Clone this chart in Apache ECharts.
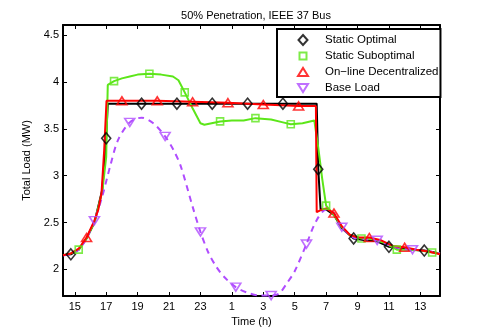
<!DOCTYPE html>
<html>
<head>
<meta charset="utf-8">
<script src="https://cdn.jsdelivr.net/npm/echarts@6/dist/echarts.min.js"></script>
<style>
  html, body { margin: 0; padding: 0; background: #fff; }
  #chart { width: 485px; height: 334px; }
</style>
</head>
<body>
<div id="chart"></div>
<script>
// time axis runs past midnight, so hours after 24 mean next day
const xTicks = [15, 17, 19, 21, 23, 25, 27, 29, 31, 33, 35, 37]
const yTicks = [2, 2.5, 3, 3.5, 4, 4.5]

// Static Optimal
const optHours = [14.25, 14.75, 15.25, 15.75, 16.25, 16.75, 17.0, 17.1, 19.25, 21.5, 23.75, 26.0, 28.25, 30.4, 30.5, 30.65, 31.0, 31.5, 32.0, 32.75, 33.5, 34.25, 35.0, 35.75, 36.5, 37.25, 38.25]
const optLoad = [2.15, 2.16, 2.21, 2.33, 2.50, 2.85, 3.40, 3.77, 3.77, 3.77, 3.77, 3.77, 3.77, 3.77, 3.07, 2.64, 2.64, 2.58, 2.44, 2.33, 2.31, 2.30, 2.24, 2.22, 2.21, 2.20, 2.17]
const optMarks = [14.75, 17.0, 19.25, 21.5, 23.75, 26.0, 28.25, 30.5, 32.75, 35.0, 37.25]

// Static Suboptimal
const subHours = [14.25, 14.75, 15.25, 15.75, 16.25, 16.75, 17.0, 17.1, 17.5, 18.0, 18.5, 19.0, 19.75, 20.5, 21.25, 21.6, 22.0, 22.5, 23.0, 23.25, 24.25, 25.0, 25.75, 26.5, 27.5, 28.25, 28.75, 29.5, 30.25, 30.5, 30.75, 31.0, 31.5, 32.0, 32.5, 33.25, 34.0, 34.75, 35.5, 36.25, 37.0, 37.75, 38.25]
const subLoad = [2.15, 2.17, 2.21, 2.33, 2.50, 2.83, 3.20, 3.97, 4.01, 4.04, 4.06, 4.08, 4.09, 4.08, 4.06, 4.02, 3.89, 3.72, 3.56, 3.545, 3.58, 3.59, 3.59, 3.615, 3.60, 3.57, 3.55, 3.56, 3.59, 3.30, 2.97, 2.68, 2.58, 2.45, 2.37, 2.33, 2.32, 2.28, 2.21, 2.21, 2.20, 2.18, 2.17]
const subMarks = [15.25, 17.5, 19.75, 22.0, 24.25, 26.5, 28.75, 31.0, 33.25, 35.5, 37.75]

// On-line Decentralized
const onHours = [14.25, 14.75, 15.25, 15.75, 16.25, 16.5, 16.7, 16.87, 17.02, 18.0, 20.25, 22.5, 24.75, 27.0, 29.25, 30.35, 30.4, 30.75, 31.0, 31.5, 32.0, 32.5, 33.0, 33.75, 34.5, 35.25, 36.0, 36.75, 37.5, 38.25]
const onLoad = [2.15, 2.17, 2.22, 2.34, 2.52, 2.64, 2.81, 3.27, 3.80, 3.80, 3.80, 3.79, 3.78, 3.76, 3.745, 3.745, 2.61, 2.64, 2.65, 2.60, 2.46, 2.37, 2.34, 2.34, 2.31, 2.25, 2.235, 2.21, 2.19, 2.16]
const onMarks = [15.75, 18.0, 20.25, 22.5, 24.75, 27.0, 29.25, 31.5, 33.75, 36.0]

// Base Load
const baseHours = [14.25, 14.75, 15.25, 15.75, 16.25, 16.75, 17.25, 17.75, 18.5, 19.25, 20.0, 20.75, 21.3, 21.75, 22.5, 23.0, 23.5, 24.0, 24.5, 25.25, 26.0, 26.75, 27.5, 28.0, 28.5, 29.0, 29.75, 30.35, 31.0, 31.5, 32.0, 32.75, 33.5, 34.25, 35.0, 35.75, 36.5, 37.25, 38.25]
const baseLoad = [2.15, 2.16, 2.21, 2.33, 2.52, 2.78, 3.10, 3.38, 3.57, 3.62, 3.56, 3.42, 3.27, 3.10, 2.67, 2.40, 2.18, 2.03, 1.92, 1.81, 1.75, 1.72, 1.72, 1.74, 1.85, 1.98, 2.27, 2.51, 2.64, 2.60, 2.45, 2.34, 2.32, 2.31, 2.26, 2.22, 2.21, 2.20, 2.17]
const baseMarks = [16.25, 18.5, 20.75, 23.0, 25.25, 27.5, 29.75, 32.0, 34.25, 36.5]

const names = ['Static Optimal', 'Static Suboptimal', 'On\u2212line Decentralized', 'Base Load']
const colors = ['#000000', '#5ce619', '#ff0000', '#b04cff']

const font = "'Liberation Sans', Arial, Helvetica, sans-serif"

// legend icons: marker at the left of a wider box, so the label sits further right
const pad = 'M0,0 M22,10 '
const legendIcons = [
  'path://' + pad + 'M5,0 L9.5,5 L5,10 L0.5,5 Z',
  'path://' + pad + 'M1.5,1.5 L8.5,1.5 L8.5,8.5 L1.5,8.5 Z',
  'path://' + pad + 'M0,9 L10,9 L5,1 Z',
  'path://' + pad + 'M0,1 L10,1 L5,9 Z'
]

function pairs(hours, vals) {
  return hours.map((h, i) => [h, vals[i]])
}
function marks(hours, vals, at) {
  return pairs(hours, vals).filter(p => at.includes(p[0]))
}

function lineSeries(name, hours, vals, color, dashed, smooth) {
  return {
    name: name + ' line',
    type: 'line',
    data: pairs(hours, vals),
    showSymbol: false,
    smooth: smooth,
    clip: false,
    silent: true,
    lineStyle: { color: color, width: 2, type: dashed ? [6, 5] : 'solid' }
  }
}

function markSeries(name, hours, vals, at, color, symbol, size) {
  return {
    name: name,
    type: 'scatter',
    data: marks(hours, vals, at),
    symbol: symbol,
    symbolSize: size,
    clip: false,
    z: 5,
    itemStyle: { color: 'transparent', borderColor: color, borderWidth: 1.6 }
  }
}

const downTri = 'path://M0,0 L10,0 L5,8 Z'

const axisCommon = {
  type: 'value',
  axisLine: { show: true, onZero: false, lineStyle: { color: '#000', width: 2 } },
  axisTick: { show: true, inside: true, length: 4, lineStyle: { color: '#000', width: 1 } },
  splitLine: { show: false }
}

const chart = echarts.init(document.getElementById('chart'), null, { renderer: 'canvas' })

chart.setOption({
  backgroundColor: '#fff',
  animation: false,
  title: {
    text: '50% Penetration, IEEE 37 Bus',
    left: 251,
    textAlign: 'center',
    top: 5,
    textStyle: { fontFamily: font, fontSize: 11, fontWeight: 'normal', color: '#000' }
  },
  grid: { left: 63, right: 45, top: 25, bottom: 38 },
  legend: {
    data: names.map((n, i) => ({ name: n, icon: legendIcons[i] })),
    orient: 'vertical',
    left: 277,
    top: 29,
    padding: [5, 2, 3, 20],
    itemWidth: 22,
    itemHeight: 10,
    itemGap: 4,
    backgroundColor: '#fff',
    borderColor: '#000',
    borderWidth: 2,
    borderRadius: 0,
    textStyle: { fontFamily: font, fontSize: 11.5, color: '#000', lineHeight: 12 }
  },
  xAxis: [
    Object.assign({}, axisCommon, {
      position: 'bottom',
      min: 14.25,
      max: 38.25,
      name: 'Time (h)',
      nameLocation: 'middle',
      nameGap: 19,
      nameTextStyle: { fontFamily: font, fontSize: 11, color: '#000' },
      axisTick: Object.assign({}, axisCommon.axisTick, { customValues: xTicks }),
      axisLabel: {
        customValues: xTicks,
        margin: 5,
        fontFamily: font,
        fontSize: 11,
        color: '#000',
        formatter: v => String(Math.round(v) % 24)
      }
    }),
    Object.assign({}, axisCommon, {
      position: 'top',
      min: 14.25,
      max: 38.25,
      axisTick: Object.assign({}, axisCommon.axisTick, { customValues: xTicks }),
      axisLabel: { show: false }
    })
  ],
  yAxis: [
    Object.assign({}, axisCommon, {
      position: 'left',
      min: 1.715,
      max: 4.61,
      name: 'Total Load (MW)',
      nameLocation: 'middle',
      nameGap: 25,
      nameTextStyle: { fontFamily: font, fontSize: 11, color: '#000' },
      axisTick: Object.assign({}, axisCommon.axisTick, { customValues: yTicks }),
      axisLabel: {
        customValues: yTicks,
        margin: 4,
        fontFamily: font,
        fontSize: 11,
        color: '#000'
      }
    }),
    Object.assign({}, axisCommon, {
      position: 'right',
      min: 1.715,
      max: 4.61,
      axisTick: Object.assign({}, axisCommon.axisTick, { customValues: yTicks }),
      axisLabel: { show: false }
    })
  ],
  series: [
    lineSeries(names[0], optHours, optLoad, colors[0], false, false),
    lineSeries(names[1], subHours, subLoad, colors[1], false, false),
    lineSeries(names[3], baseHours, baseLoad, colors[3], true, 0.3),
    lineSeries(names[2], onHours, onLoad, colors[2], false, false),
    markSeries(names[0], optHours, optLoad, optMarks, colors[0], 'diamond', [9, 11]),
    markSeries(names[1], subHours, subLoad, subMarks, colors[1], 'rect', [7, 7]),
    markSeries(names[2], onHours, onLoad, onMarks, colors[2], 'triangle', [10, 8]),
    markSeries(names[3], baseHours, baseLoad, baseMarks, colors[3], downTri, [10, 8])
  ]
})

window.addEventListener('resize', () => {
  chart.resize()
})
</script>
</body>
</html>
